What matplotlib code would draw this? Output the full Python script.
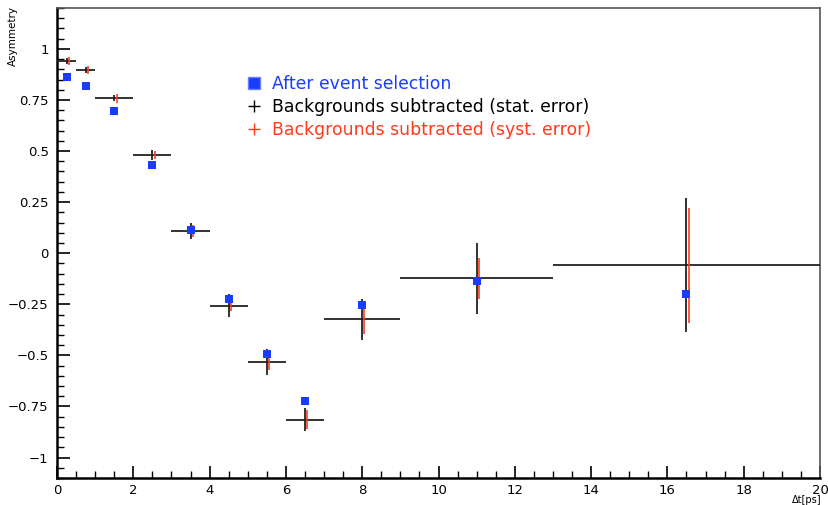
import matplotlib
matplotlib.use("Agg")
import matplotlib.pyplot as plt
from matplotlib.lines import Line2D
import numpy as np

# ---- data ----
bin_edges = [0, 0.5, 1, 2, 3, 4, 5, 6, 7, 9, 13, 20]
sel_values = [0.861, 0.820, 0.694, 0.431, 0.113, -0.224, -0.495, -0.725, -0.252, -0.137, -0.202]
sub_values = [0.941, 0.897, 0.758, 0.480, 0.109, -0.256, -0.533, -0.814, -0.324, -0.123, -0.059]
stat_err = [0.014, 0.013, 0.015, 0.026, 0.039, 0.054, 0.064, 0.057, 0.099, 0.173, 0.327]
syst_err = [0.020, 0.020, 0.021, 0.019, 0.030, 0.028, 0.037, 0.048, 0.069, 0.101, 0.282]
x_ticks = [0, 2, 4, 6, 8, 10, 12, 14, 16, 18, 20]
y_ticks = [-1, -0.75, -0.5, -0.25, 0, 0.25, 0.5, 0.75, 1]
y_tick_labels = ["\u22121", "\u22120.75", "\u22120.5", "\u22120.25", "0", "0.25", "0.5", "0.75", "1"]

edges = np.array(bin_edges)
centers = 0.5 * (edges[:-1] + edges[1:])
half_w = 0.5 * (edges[1:] - edges[:-1])

fig = plt.figure(figsize=(8.29, 5.05), dpi=100)
ax = fig.add_axes([57/829, 1 - 478/505, (820-57)/829, (478-8)/505])

blue = "#1a3cff"
red = "#ff3a1a"
dark = "#222222"

# backgrounds subtracted (stat)
ax.errorbar(centers, sub_values, xerr=half_w, yerr=stat_err, fmt='none',
            ecolor=dark, elinewidth=1.3, capsize=0, zorder=3)
# backgrounds subtracted (syst), drawn slightly shifted as in the reference
ax.errorbar(centers + 0.06, sub_values, yerr=syst_err, fmt='none',
            ecolor=red, elinewidth=1.3, capsize=0, zorder=4, alpha=0.9)
# after event selection
ax.plot(centers, sel_values, linestyle='none', marker='s', markersize=5.2,
        color=blue, markeredgewidth=0, zorder=5)

ax.set_xlim(0, 20)
ax.set_ylim(-1.1, 1.2)

ax.set_xticks(x_ticks)
ax.set_xticks(np.arange(0, 20.01, 0.5), minor=True)
ax.set_yticks(y_ticks)
ax.set_yticklabels(y_tick_labels)
ax.set_yticks(np.arange(-1.1, 1.201, 0.05), minor=True)

ax.tick_params(axis='both', which='major', direction='in', length=9, width=1.2,
               labelsize=9.5, colors='black')
ax.tick_params(axis='both', which='minor', direction='in', length=5, width=1.0)
ax.tick_params(axis='x', pad=4)
ax.tick_params(axis='y', pad=6)

for s in ['left', 'bottom']:
    ax.spines[s].set_linewidth(1.8)
    ax.spines[s].set_color('black')
for s in ['top', 'right']:
    ax.spines[s].set_linewidth(1.2)
    ax.spines[s].set_color('#555555')

fig.text(13/829, 1 - 36/505, "Asymmetry", rotation=90, ha='center', va='center', fontsize=7.5)
fig.text(822/829, 1 - 500/505, "\u0394t[ps]", ha='right', va='center', fontsize=7)

handles = [
    Line2D([], [], linestyle='none', marker='s', markersize=9, color=blue,
           markeredgecolor='#6a80ff', markeredgewidth=1),
    Line2D([], [], linestyle='none', marker='+', markersize=9, color='black', markeredgewidth=1),
    Line2D([], [], linestyle='none', marker='+', markersize=9, color=red, markeredgewidth=1),
]
labels = ["After event selection", "Backgrounds subtracted (stat. error)",
          "Backgrounds subtracted (syst. error)"]
leg = ax.legend(handles, labels, loc='upper left', bbox_to_anchor=(247/829, 1 - 75/505),
                bbox_transform=fig.transFigure, frameon=False, fontsize=12.4,
                handlelength=0.8, handletextpad=0.65, labelspacing=0.3, borderaxespad=0,
                borderpad=0)
for txt, c in zip(leg.get_texts(), [blue, 'black', red]):
    txt.set_color(c)

fig.savefig("out.png", dpi=100, facecolor='white')
